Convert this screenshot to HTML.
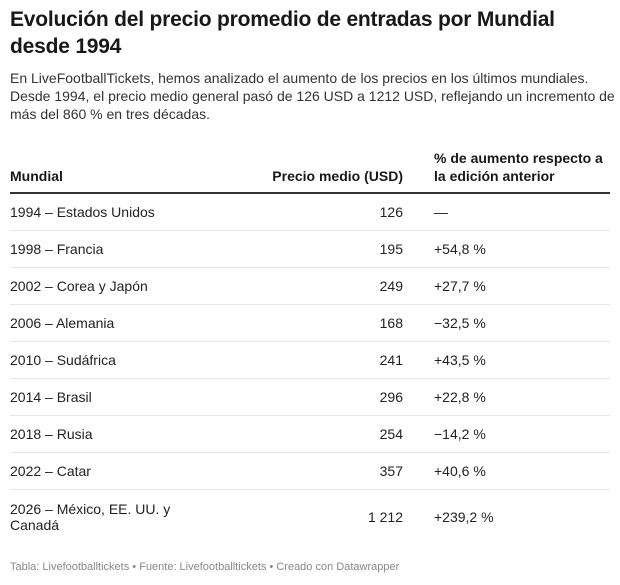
<!DOCTYPE html>
<html><head><meta charset="utf-8"><style>
body{margin:0;background:#fff;font-family:"Liberation Sans",sans-serif;color:#181818;width:620px;height:585px;overflow:hidden;position:relative}
h1{position:absolute;left:10px;top:6px;margin:0;font-size:21px;line-height:27px;font-weight:bold;width:600px;letter-spacing:-0.2px}
.sub{position:absolute;left:10px;top:69px;font-size:14px;line-height:18px;width:605px;color:#333}
table{position:absolute;left:10px;top:149px;width:600px;border-collapse:collapse;font-size:14px}
th{font-weight:bold;text-align:left;vertical-align:bottom;padding:0 0 7px 0;line-height:18px;border-bottom:2px solid #333}
td{height:36px;border-bottom:1px solid #e6e6e6;padding:0;vertical-align:middle;color:#222}
.r{text-align:right;padding-right:8px}
.c3{padding-left:23px}
tr:last-child td{border-bottom:none;height:54px;line-height:16px}
.foot{position:absolute;left:10px;top:561px;font-size:11px;color:#888}
</style></head><body>
<h1>Evolución del precio promedio de entradas por Mundial desde 1994</h1>
<div class="sub">En LiveFootballTickets, hemos analizado el aumento de los precios en los últimos mundiales. Desde 1994, el precio medio general pasó de 126 USD a 1212 USD, reflejando un incremento de más del 860 % en tres décadas.</div>
<table>
<colgroup><col style="width:250px"><col style="width:151px"><col></colgroup>
<thead><tr><th>Mundial</th><th class="r">Precio medio (USD)</th><th class="c3">% de aumento respecto a<br>la edición anterior</th></tr></thead>
<tbody id="tb"></tbody></table>
<div class="foot">Tabla: Livefootballtickets • Fuente: Livefootballtickets • Creado con Datawrapper</div>
<script>
const cups=["1994 – Estados Unidos","1998 – Francia","2002 – Corea y Japón","2006 – Alemania","2010 – Sudáfrica","2014 – Brasil","2018 – Rusia","2022 – Catar","2026 – México, EE. UU. y<br>Canadá"];
const prices=["126","195","249","168","241","296","254","357","1 212"];
const changes=["—","+54,8 %","+27,7 %","−32,5 %","+43,5 %","+22,8 %","−14,2 %","+40,6 %","+239,2 %"];
const tb=document.getElementById('tb');
cups.forEach((c,i)=>{
const tr=document.createElement('tr');


tr.innerHTML='<td>'+c+'</td><td class="r">'+prices[i]+'</td><td class="c3">'+changes[i]+'</td>';
tb.appendChild(tr);
});
</script>
</body></html>
